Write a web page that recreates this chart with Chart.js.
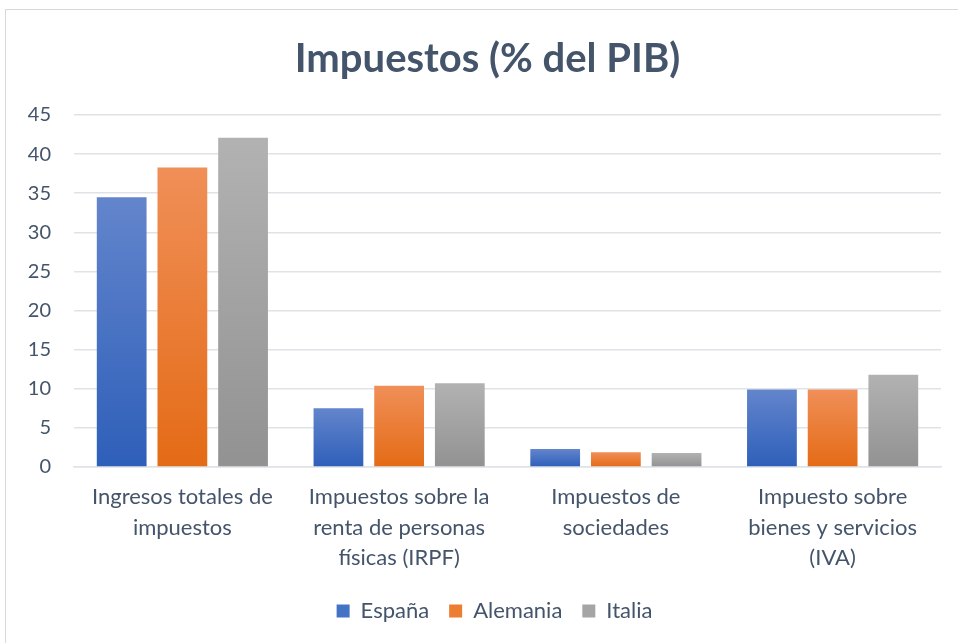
<!DOCTYPE html>
<html>
<head>
<meta charset="utf-8">
<script src="https://cdn.jsdelivr.net/npm/chart.js@4.4.1/dist/chart.umd.min.js"></script>
<style>
  html, body { margin: 0; padding: 0; background: #fff; }
  #wrap { width: 958px; height: 643px; position: relative; }
</style>
</head>
<body>
<div id="wrap"><canvas id="chart"></canvas></div>
<script>
// data
const categories = [
    ['Ingresos totales de', 'impuestos'],
    ['Impuestos sobre la', 'renta de personas', 'físicas (IRPF)'],
    ['Impuestos de', 'sociedades'],
    ['Impuesto sobre', 'bienes y servicios', '(IVA)']
];
const espana = [34.5, 7.5, 2.3, 9.9];
const alemania = [38.3, 10.4, 1.9, 9.9];
const italia = [42.1, 10.7, 1.8, 11.8];
const yTicks = [0, 5, 10, 15, 20, 25, 30, 35, 40, 45];

const FONT = 'Lato, "Open Sans", sans-serif';
const TEXT = '#44546A';

// Excel style: each bar goes light at the top, darker at the base
function barGradient(light, dark) {
    return (context) => {
        const chart = context.chart;
        const y = chart.scales.y;
        if (!chart.chartArea || !y || context.raw == null) return dark;
        const top = y.getPixelForValue(context.raw);
        const base = y.getPixelForValue(0);
        const g = chart.ctx.createLinearGradient(0, top, 0, base);
        g.addColorStop(0, light);
        g.addColorStop(1, dark);
        return g;
    };
}

const frameBorder = {
    id: 'frameBorder',
    beforeDraw: (chart) => {
        const ctx = chart.ctx;
        ctx.save();
        ctx.strokeStyle = '#D9D9D9';
        ctx.lineWidth = 1;
        ctx.strokeRect(5.5, 9.5, 1000, 1000);
        ctx.restore();
    }
};

// Excel centres title and legend a bit right of the plot's middle
const boxShift = {
    id: 'boxShift',
    afterLayout: (chart) => {
        if (chart.legend) {
            chart.legend.left += 24;
            chart.legend.right += 24;
        }
        if (chart.titleBlock) {
            chart.titleBlock.left += 17;
            chart.titleBlock.right += 17;
        }
    }
};

const legendSwatches = ['#4472C4', '#ED7D31', '#A5A5A5'];

new Chart(document.getElementById('chart'), {
    type: 'bar',
    plugins: [frameBorder, boxShift],
    data: {
        labels: categories,
        datasets: [
            { label: 'España', data: espana, backgroundColor: barGradient('#6385CC', '#2E5FB9') },
            { label: 'Alemania', data: alemania, backgroundColor: barGradient('#F08F58', '#E46B16') },
            { label: 'Italia', data: italia, backgroundColor: barGradient('#B2B2B2', '#929292') }
        ]
    },
    options: {
        responsive: true,
        maintainAspectRatio: false,
        animation: false,
        devicePixelRatio: 1,
        layout: { padding: { top: 0, right: 17, bottom: 11, left: 0 } },
        datasets: { bar: { categoryPercentage: 0.84, barPercentage: 0.82 } },
        scales: {
            x: {
                grid: { display: false, drawTicks: false },
                border: { display: true, color: '#DFE3E8', width: 1.5 },
                ticks: {
                    color: TEXT,
                    padding: 15,
                    maxRotation: 0,
                    autoSkip: false,
                    font: { family: FONT, size: 22, lineHeight: 1.38 }
                },
                afterFit: (scale) => { scale.height = 113; }
            },
            y: {
                min: 0,
                max: 45,
                afterBuildTicks: (scale) => { scale.ticks = yTicks.map(v => ({ value: v })); },
                grid: { color: '#DFE3E8', lineWidth: 1.5, drawTicks: false },
                border: { display: false },
                ticks: {
                    color: TEXT,
                    padding: 23,
                    font: { family: FONT, size: 20 }
                },
                afterFit: (scale) => { scale.width = 74; }
            }
        },
        plugins: {
            title: {
                display: true,
                text: 'Impuestos (% del PIB)',
                color: TEXT,
                font: { family: FONT, size: 40, weight: 'bold', lineHeight: 1.2 },
                padding: { top: 35, bottom: 32 }
            },
            legend: {
                position: 'bottom',
                labels: {
                    color: TEXT,
                    boxWidth: 13,
                    boxHeight: 13,
                    padding: 20,
                    font: { family: FONT, size: 22 },
                    generateLabels: (chart) => chart.data.datasets.map((ds, i) => ({
                        text: ds.label,
                        fillStyle: legendSwatches[i],
                        strokeStyle: legendSwatches[i],
                        lineWidth: 0,
                        fontColor: TEXT,
                        datasetIndex: i
                    }))
                }
            },
            tooltip: { enabled: false }
        }
    }
});
</script>
</body>
</html>
